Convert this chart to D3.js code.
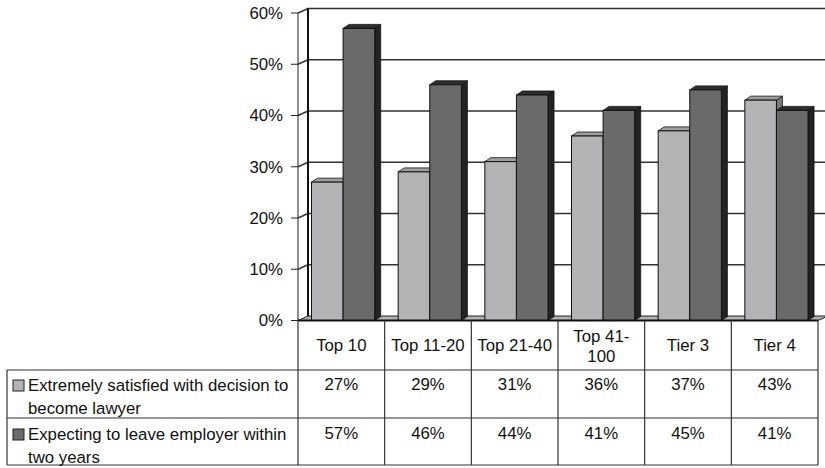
<!DOCTYPE html>
<html>
<head>
<meta charset="utf-8">
<script src="https://cdn.jsdelivr.net/npm/d3@7"></script>
<style>
body { margin: 0; background: #fff; }
svg { display: block; font-family: "Liberation Sans", Arial, sans-serif; }
</style>
</head>
<body>
<div id="chart"></div>
<script>
// data
// ----------------------------------------
var categories = ["Top 10", "Top 11-20", "Top 21-40", "Top 41-\n100", "Tier 3", "Tier 4"];
var seriesNames = ["Extremely satisfied with decision to\nbecome lawyer", "Expecting to leave employer within\ntwo years"];
var satisfied = [0.27, 0.29, 0.31, 0.36, 0.37, 0.43];
var leaving = [0.57, 0.46, 0.44, 0.41, 0.45, 0.41];
var yTicks = [0, 0.1, 0.2, 0.3, 0.4, 0.5, 0.6];

var series = [
	{name: seriesNames[0], values: satisfied, front: "#b3b3b5", top: "#9e9e9e", side: "#7a7a7a"},
	{name: seriesNames[1], values: leaving, front: "#6a6a6a", top: "#2e2e2e", side: "#222"}
];

// main variables
// ----------------------------------------
var width = 825, height = 468;
var plotLeft = 298, plotRight = 818, floorY = 320.5;
var wallDx = 10, wallDy = -4.5; // depth of the walls
var barDx = 6, barDy = -4;      // depth of the bars
var fs = 16.8;

var svg = d3.select("#chart")
	.append("svg")
	.attr("width", width)
	.attr("height", height);

var x = d3.scaleBand()
	.domain(categories)
	.range([plotLeft, plotRight]);

var y = d3.scaleLinear()
	.domain([0, 0.6])
	.range([floorY, 13]);

var inner = d3.scaleBand()
	.domain([0, 1])
	.range([13.5, 13.5 + 63.2]);

var fmt = d3.format(".0%");

// walls & gridlines
var grid = svg.append("g");
yTicks.forEach(function(t){
	var yy = y(t);
	grid.append("path")
		.attr("d", "M" + plotLeft + "," + yy + "L" + (plotLeft + wallDx) + "," + (yy + wallDy) + "L" + (plotRight + wallDx) + "," + (yy + wallDy))
		.attr("fill", "none")
		.attr("stroke", t === 0 ? "none" : "#333")
		.attr("stroke-width", 1.4);
});

// back corner of the side wall
grid.append("line")
	.attr("x1", plotLeft + wallDx).attr("x2", plotLeft + wallDx)
	.attr("y1", y(0.6) + wallDy).attr("y2", y(0) + wallDy)
	.attr("stroke", "#111").attr("stroke-width", 2);

// floor
grid.append("path")
	.attr("d", "M" + plotLeft + "," + floorY + "L" + plotRight + "," + floorY +
		"L" + (plotRight + wallDx) + "," + (floorY + wallDy) + "L" + (plotLeft + wallDx) + "," + (floorY + wallDy) + "Z")
	.attr("fill", "#b0b0b0")
	.attr("stroke", "#222")
	.attr("stroke-width", 1);

// bars
var bars = svg.append("g");
categories.forEach(function(c, i){
	series.forEach(function(s, j){
		var x0 = x(c) + inner(j), w = inner.bandwidth();
		var y0 = y(s.values[i]), y1 = y(0);
		var g = bars.append("g");
		// side face
		g.append("path")
			.attr("d", "M" + (x0 + w) + "," + y0 + "L" + (x0 + w + barDx) + "," + (y0 + barDy) +
				"L" + (x0 + w + barDx) + "," + (y1 + barDy) + "L" + (x0 + w) + "," + y1 + "Z")
			.attr("fill", s.side).attr("stroke", "#111").attr("stroke-width", 0.8);
		// top face
		g.append("path")
			.attr("d", "M" + x0 + "," + y0 + "L" + (x0 + barDx) + "," + (y0 + barDy) +
				"L" + (x0 + w + barDx) + "," + (y0 + barDy) + "L" + (x0 + w) + "," + y0 + "Z")
			.attr("fill", s.top).attr("stroke", "#111").attr("stroke-width", 0.8);
		// front face
		g.append("rect")
			.attr("x", x0).attr("y", y0)
			.attr("width", w).attr("height", y1 - y0)
			.attr("fill", s.front).attr("stroke", "#111").attr("stroke-width", 1);
	});
});

// front axis
var axis = svg.append("g");
axis.append("line")
	.attr("x1", plotLeft).attr("x2", plotLeft)
	.attr("y1", y(0.6)).attr("y2", floorY)
	.attr("stroke", "#222").attr("stroke-width", 1);
axis.append("line")
	.attr("x1", plotLeft).attr("x2", plotRight)
	.attr("y1", floorY).attr("y2", floorY)
	.attr("stroke", "#111").attr("stroke-width", 2);

yTicks.forEach(function(t){
	axis.append("line")
		.attr("x1", plotLeft - 7).attr("x2", plotLeft)
		.attr("y1", y(t)).attr("y2", y(t))
		.attr("stroke", "#222");
	axis.append("text")
		.attr("x", plotLeft - 15).attr("y", y(t))
		.attr("dy", "0.35em")
		.attr("text-anchor", "end")
		.attr("font-size", fs)
		.attr("fill", "#111")
		.text(fmt(t));
});

// data table
// ----------------------------------------
var table = svg.append("g");
var tableLeft = 7, rowTops = [370, 418], tableBottom = 465;
var lineCol = "#333";

[rowTops[0], rowTops[1], tableBottom].forEach(function(ry){
	table.append("line")
		.attr("x1", tableLeft).attr("x2", plotRight)
		.attr("y1", ry).attr("y2", ry)
		.attr("stroke", lineCol).attr("stroke-width", 1.2);
});
table.append("line")
	.attr("x1", tableLeft).attr("x2", tableLeft)
	.attr("y1", rowTops[0]).attr("y2", tableBottom)
	.attr("stroke", lineCol).attr("stroke-width", 1.2);

var edges = categories.map(function(c){ return x(c); }).concat([plotRight]);
edges.forEach(function(ex){
	table.append("line")
		.attr("x1", ex).attr("x2", ex)
		.attr("y1", floorY).attr("y2", tableBottom)
		.attr("stroke", lineCol).attr("stroke-width", 1.2);
});

// header labels
categories.forEach(function(c){
	var lines = c.split("\n");
	var t = table.append("text")
		.attr("text-anchor", "middle")
		.attr("font-size", fs)
		.attr("fill", "#111");
	lines.forEach(function(l, k){
		t.append("tspan")
			.attr("x", x(c) + x.bandwidth() / 2)
			.attr("y", lines.length === 1 ? 351 : 341.5 + k * 20)
			.text(l);
	});
});

// series rows
var rowBase = [390, 439];
series.forEach(function(s, j){
	table.append("rect")
		.attr("x", 13).attr("y", rowBase[j] - 10)
		.attr("width", 11).attr("height", 11)
		.attr("fill", s.front)
		.attr("stroke", "#222").attr("stroke-width", 1);
	var t = table.append("text")
		.attr("font-size", fs)
		.attr("fill", "#111");
	s.name.split("\n").forEach(function(l, k){
		t.append("tspan")
			.attr("x", 28)
			.attr("y", rowBase[j] + 1 + k * 23)
			.text(l);
	});
	categories.forEach(function(c, i){
		table.append("text")
			.attr("x", x(c) + x.bandwidth() / 2)
			.attr("y", rowBase[j])
			.attr("text-anchor", "middle")
			.attr("font-size", fs)
			.attr("fill", "#111")
			.text(fmt(s.values[i]));
	});
});
</script>
</body>
</html>
